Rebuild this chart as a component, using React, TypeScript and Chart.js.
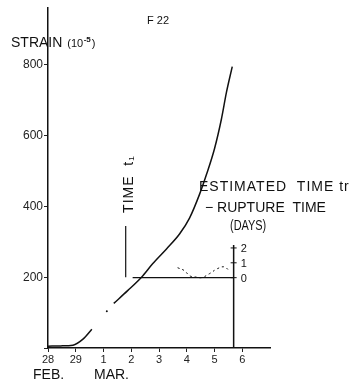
import React, { useEffect, useRef } from 'react';
import { Chart, registerables } from 'chart.js';

Chart.register(...registerables);

// ---- data ----
const dayLabels = ['28', '29', '1', '2', '3', '4', '5', '6'];
const strainTicks = [0, 200, 400, 600, 800];
const earlyDays = [0, 0.45, 0.9, 1.26, 1.58];
const earlyStrain = [5, 6, 8, 25, 53];
const gapDays = [2.12];
const gapStrain = [104];
const mainDays = [2.37, 2.87, 3.37, 3.77, 4.27, 4.74, 5.1, 5.46, 5.71, 6.0, 6.25, 6.43, 6.64];
const mainStrain = [126, 162, 200, 238, 280, 322, 367, 434, 490, 563, 647, 722, 795];
const estDays = [4.67, 4.92, 5.1, 5.3, 5.53, 5.82, 6.1, 6.35, 6.53];
const estValues = [0.67, 0.47, 0.13, 0.05, 0, 0.27, 0.6, 0.73, 0.47];
const estTicks = [0, 1, 2];
const t1Day = 2.8;
const t1Strain = [200, 345];
const ruptureDay = 6.69;
const baselineDays = [3.05, 6.69];
const estAxisTop = 2.2;
const estMin = -4.733;
const estMax = 18.133;

const FONT = '"Liberation Sans", Arial, sans-serif';
const INK = '#111';

const pts = (xs: number[], ys: number[]) => xs.map((x, i) => ({ x, y: ys[i] }));

const textPlugin = {
  id: 'annotText',
  afterDraw(chart: any) {
    const ctx = chart.ctx;
    const xs = chart.scales.x;
    const ye = chart.scales.yEst;
    ctx.save();
    ctx.fillStyle = INK;
    ctx.strokeStyle = INK;
    ctx.textBaseline = 'middle';
    ctx.textAlign = 'left';

    // est axis ticks & labels
    const ax = xs.getPixelForValue(ruptureDay);
    ctx.lineWidth = 1;
    ctx.font = `11px ${FONT}`;
    estTicks.forEach((v) => {
      const py = ye.getPixelForValue(v);
      ctx.beginPath();
      ctx.moveTo(ax - 3, py);
      ctx.lineTo(ax + 3, py);
      ctx.stroke();
      ctx.fillText(String(v), ax + 7, py + 1);
    });

    // titles
    ctx.font = `11px ${FONT}`;
    ctx.fillText('F 22', 147, 21);

    ctx.font = `14px ${FONT}`;
    ctx.fillText('STRAIN', 11, 43);
    const w = ctx.measureText('STRAIN ').width + 1;
    ctx.font = `11px ${FONT}`;
    ctx.fillText('(10', 11 + w, 44);
    const w2 = ctx.measureText('(10').width;
    ctx.font = `bold 8px ${FONT}`;
    ctx.fillText('-5', 11 + w + w2 + 0.5, 40);
    const w3 = ctx.measureText('-5').width;
    ctx.font = `11px ${FONT}`;
    ctx.fillText(')', 11 + w + w2 + w3 + 1.5, 44);

    ctx.font = `14px ${FONT}`;
    ctx.fillText('FEB.', 33, 375);
    ctx.fillText('MAR.', 94, 375);

    ctx.save();
    (ctx as any).letterSpacing = '1px';
    ctx.fillText('ESTIMATED  TIME tr', 199, 187);
    ctx.restore();
    ctx.fillText('− RUPTURE  TIME', 205, 208);

    ctx.save();
    ctx.translate(230, 226);
    ctx.scale(0.78, 1);
    ctx.font = `14px ${FONT}`;
    ctx.fillText('(DAYS)', 0, 0);
    ctx.restore();

    // rotated TIME t1
    ctx.save();
    ctx.translate(129, 184);
    ctx.rotate(-Math.PI / 2);
    ctx.textAlign = 'center';
    ctx.font = `14px ${FONT}`;
    (ctx as any).letterSpacing = '1px';
    ctx.fillText('TIME  t₁', 0, 0);
    ctx.restore();

    ctx.restore();
  },
};

export default function App() {
  const ref = useRef<HTMLCanvasElement | null>(null);

  useEffect(() => {
    if (!ref.current) return;
    const lineDs = (data: any[], extra: any = {}) => ({
      data,
      borderColor: INK,
      backgroundColor: INK,
      borderWidth: 1.5,
      pointRadius: 0,
      fill: false,
      cubicInterpolationMode: 'monotone',
      ...extra,
    });
    const chart = new Chart(ref.current, {
      type: 'line',
      data: {
        datasets: [
          lineDs(pts(earlyDays, earlyStrain)),
          lineDs(pts(gapDays, gapStrain), { showLine: false, pointRadius: 1, borderWidth: 0 }),
          lineDs(pts(mainDays, mainStrain)),
          lineDs([{ x: t1Day, y: t1Strain[0] }, { x: t1Day, y: t1Strain[1] }], { borderWidth: 1.2 }),
          lineDs(pts(baselineDays, [0, 0]), { yAxisID: 'yEst', borderWidth: 1.2 }),
          lineDs([{ x: ruptureDay, y: estMin }, { x: ruptureDay, y: estAxisTop }], { yAxisID: 'yEst', borderWidth: 1.5 }),
          lineDs(pts(estDays, estValues), { yAxisID: 'yEst', borderWidth: 1, borderDash: [2, 3], cubicInterpolationMode: 'default', tension: 0.4 }),
        ],
      },
      options: {
        responsive: false,
        maintainAspectRatio: false,
        animation: false,
        layout: { padding: { top: 5, right: 84, bottom: 0, left: 0 } },
        plugins: { legend: { display: false }, tooltip: { enabled: false } },
        scales: {
          x: {
            type: 'linear',
            min: 0,
            max: 8,
            afterFit: (s: any) => { s.height = 34; },
            afterBuildTicks: (s: any) => { s.ticks = dayLabels.map((_, i) => ({ value: i })); },
            ticks: {
              callback: (v: any) => dayLabels[v] ?? '',
              font: { family: FONT, size: 11 },
              color: '#222',
              padding: 1,
              maxRotation: 0,
              autoSkip: false,
            },
            grid: { drawOnChartArea: false, drawTicks: true, tickLength: 4, color: '#222', lineWidth: 1 },
            border: { color: INK, width: 1.5 },
          },
          y: {
            type: 'linear',
            min: 0,
            max: 960,
            afterFit: (s: any) => { s.width = 48; },
            afterBuildTicks: (s: any) => { s.ticks = strainTicks.map((v) => ({ value: v })); },
            ticks: {
              callback: (v: any) => (v === 0 ? '' : String(v)),
              font: { family: FONT, size: 12 },
              color: '#222',
              padding: 1,
            },
            grid: { drawOnChartArea: false, drawTicks: true, tickLength: 4, color: '#222', lineWidth: 1 },
            border: { color: INK, width: 1.5 },
          },
          yEst: {
            type: 'linear',
            display: false,
            min: estMin,
            max: estMax,
          },
        },
      } as any,
      plugins: [textPlugin],
    });
    return () => chart.destroy();
  }, []);

  return (
    <div style={{ position: 'absolute', left: 0, top: 0, width: 354, height: 382, background: '#fff' }}>
      <canvas ref={ref} width={354} height={382} style={{ width: 354, height: 382, display: 'block' }} />
    </div>
  );
}
